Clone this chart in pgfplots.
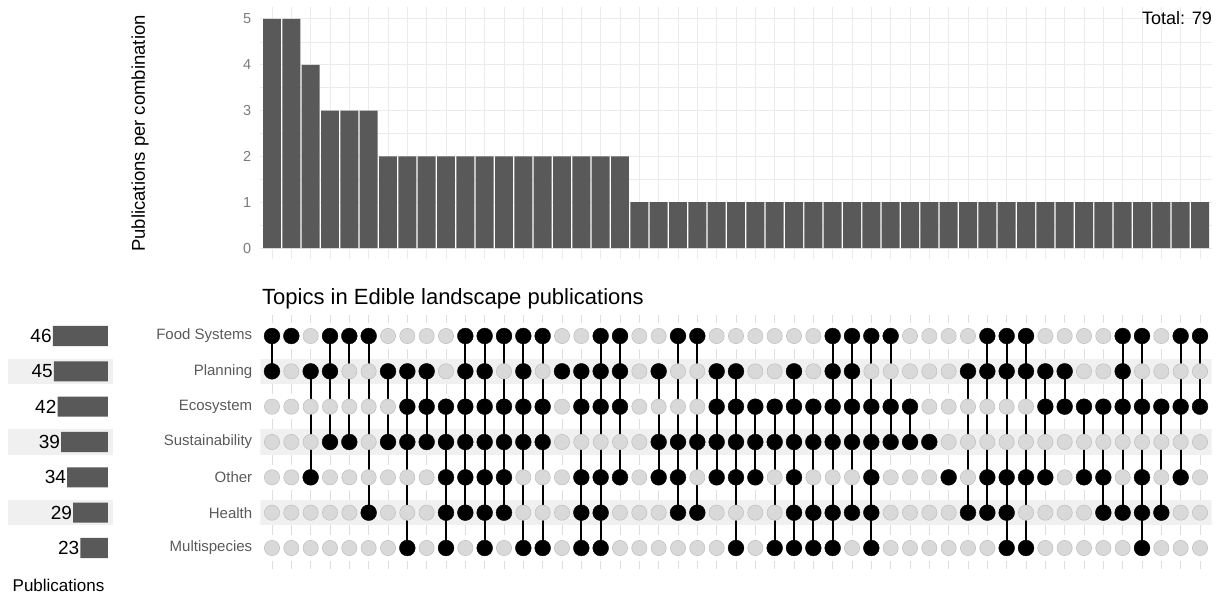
\documentclass[border=0pt]{standalone}
\usepackage{fontspec}
\setmainfont{Liberation Sans}
\usepackage{pgfplots}
\pgfplotsset{compat=1.18}
\definecolor{barc}{HTML}{595959}
\definecolor{gridc}{HTML}{EBEBEB}
\definecolor{stripe}{HTML}{F0F0F0}
\definecolor{dotg}{HTML}{D9D9D9}
\definecolor{dotgd}{HTML}{C2C2C2}
\definecolor{labc}{HTML}{5A5A5A}
\definecolor{vtick}{HTML}{DEDEDE}
\begin{document}
\begin{tikzpicture}[x=1pt,y=1pt]
\path[use as bounding box] (0,0) rectangle (1220,-593);
% ---------------- top: intersection sizes
\begin{axis}[
 scale only axis, width=951.2pt, height=252pt,
 at={(260.4pt,-259.5pt)}, anchor=south west,
 xmin=0.4, xmax=49.6, ymin=-0.25, ymax=5.25,
 axis line style={draw=none}, major tick length=0pt, minor tick length=0pt,
 xtick={1,...,49}, xticklabels={},
 ytick={0,...,5}, minor ytick={0.5,1.5,...,4.5},
 xmajorgrids, ymajorgrids, yminorgrids,
 major grid style={gridc, line width=1pt},
 minor grid style={gridc, line width=0.7pt},
 y tick label style={font=\fontsize{14.5}{16}\selectfont, text=labc!80, inner sep=0pt, xshift=-9pt},
 /pgf/number format/assume math mode=true,
 ylabel={Publications per combination},
 ylabel style={at={(axis description cs:-0.1266,0.5)}, anchor=center, font=\fontsize{18.5}{22}\selectfont},
 ybar, bar width=0.93, clip=false,
]
\addplot[fill=barc, draw=none] coordinates {
(1,5)(2,5)(3,4)(4,3)(5,3)(6,3)
(7,2)(8,2)(9,2)(10,2)(11,2)(12,2)(13,2)(14,2)(15,2)(16,2)(17,2)(18,2)(19,2)
(20,1)(21,1)(22,1)(23,1)(24,1)(25,1)(26,1)(27,1)(28,1)(29,1)(30,1)
(31,1)(32,1)(33,1)(34,1)(35,1)(36,1)(37,1)(38,1)(39,1)(40,1)
(41,1)(42,1)(43,1)(44,1)(45,1)(46,1)(47,1)(48,1)(49,1)};
\node[anchor=base east, inner sep=0pt, font=\fontsize{18}{20}\selectfont] at (axis description cs:1.0004,0.9306) {Total: 79};
\node[anchor=base west, inner sep=0pt, font=\fontsize{22}{26}\selectfont] at (axis description cs:0.0017,-0.1786) {Topics in Edible landscape publications};
\end{axis}
% ---------------- matrix
\begin{axis}[
 scale only axis, width=951.2pt, height=254.4pt,
 at={(260.4pt,-314.8pt)}, anchor=north west,
 xmin=0.4, xmax=49.6, ymin=0.4, ymax=7.6, y dir=reverse,
 axis line style={draw=none}, major tick length=0pt,
 xtick={1,...,49}, xticklabels={}, xmajorgrids,
 major grid style={vtick, line width=0.9pt},
 ytick={1,...,7},
 yticklabels={Food Systems,Planning,Ecosystem,Sustainability,Other,Health,Multispecies},
 y tick label style={font=\fontsize{15}{17}\selectfont, text=labc, inner sep=0pt, xshift=-8pt},
 unbounded coords=jump,
]
\fill[white] (axis cs:0.4,0.646) rectangle (axis cs:49.6,1.354);
\fill[stripe] (axis cs:0.4,1.646) rectangle (axis cs:49.6,2.354);
\fill[white] (axis cs:0.4,2.646) rectangle (axis cs:49.6,3.354);
\fill[stripe] (axis cs:0.4,3.646) rectangle (axis cs:49.6,4.354);
\fill[white] (axis cs:0.4,4.646) rectangle (axis cs:49.6,5.354);
\fill[stripe] (axis cs:0.4,5.646) rectangle (axis cs:49.6,6.354);
\fill[white] (axis cs:0.4,6.646) rectangle (axis cs:49.6,7.354);
% grey (absent) dots
\addplot[only marks, mark=*, mark size=7.6pt, mark options={fill=dotg, draw=dotgd, line width=0.6pt}] coordinates {
(3,1)(7,1)(8,1)(9,1)(10,1)(16,1)(17,1)(20,1)(21,1)(24,1)(25,1)(26,1)(27,1)(28,1)(29,1)(34,1)(35,1)(36,1)(37,1)(41,1)(42,1)(43,1)(44,1)(47,1)
(2,2)(5,2)(6,2)(10,2)(13,2)(15,2)(20,2)(22,2)(23,2)(26,2)(27,2)(29,2)(32,2)(33,2)(34,2)(35,2)(36,2)(43,2)(44,2)(46,2)(47,2)(48,2)(49,2)
(1,3)(2,3)(3,3)(4,3)(5,3)(6,3)(7,3)(16,3)(20,3)(21,3)(22,3)(23,3)(35,3)(36,3)(37,3)(38,3)(39,3)(40,3)
(1,4)(2,4)(3,4)(6,4)(16,4)(17,4)(18,4)(19,4)(20,4)(36,4)(37,4)(38,4)(39,4)(40,4)(41,4)(42,4)(43,4)(44,4)(45,4)(46,4)(47,4)(48,4)(49,4)
(1,5)(2,5)(4,5)(5,5)(6,5)(7,5)(8,5)(9,5)(14,5)(15,5)(16,5)(20,5)(23,5)(27,5)(29,5)(30,5)(31,5)(33,5)(34,5)(35,5)(37,5)(42,5)(45,5)(47,5)(49,5)
(1,6)(2,6)(3,6)(4,6)(5,6)(7,6)(8,6)(9,6)(14,6)(15,6)(16,6)(19,6)(20,6)(21,6)(24,6)(25,6)(26,6)(27,6)(33,6)(34,6)(35,6)(36,6)(40,6)(41,6)(42,6)(43,6)(48,6)(49,6)
(1,7)(2,7)(3,7)(4,7)(5,7)(6,7)(7,7)(9,7)(11,7)(13,7)(16,7)(19,7)(20,7)(21,7)(22,7)(23,7)(24,7)(26,7)(31,7)(33,7)(34,7)(35,7)(36,7)(37,7)(38,7)(41,7)(42,7)(43,7)(44,7)(45,7)(47,7)(48,7)(49,7)};
% connecting lines
\addplot[black, line width=2.3pt, mark=none] coordinates {
(1,1)(1,2)(1,nan) (3,2)(3,5)(3,nan) (4,1)(4,4)(4,nan) (5,1)(5,4)(5,nan)
(6,1)(6,6)(6,nan) (7,2)(7,4)(7,nan) (8,2)(8,7)(8,nan) (9,2)(9,4)(9,nan)
(10,3)(10,7)(10,nan) (11,1)(11,6)(11,nan) (12,1)(12,7)(12,nan) (13,1)(13,6)(13,nan)
(14,1)(14,7)(14,nan) (15,1)(15,7)(15,nan) (17,2)(17,7)(17,nan) (18,1)(18,7)(18,nan)
(19,1)(19,5)(19,nan) (21,2)(21,5)(21,nan) (22,1)(22,6)(22,nan) (23,1)(23,6)(23,nan)
(24,2)(24,5)(24,nan) (25,2)(25,7)(25,nan) (26,3)(26,5)(26,nan) (27,3)(27,7)(27,nan)
(28,2)(28,7)(28,nan) (29,3)(29,7)(29,nan) (30,1)(30,7)(30,nan) (31,1)(31,6)(31,nan)
(32,1)(32,7)(32,nan) (33,1)(33,4)(33,nan) (34,3)(34,4)(34,nan) (37,2)(37,6)(37,nan)
(38,1)(38,6)(38,nan) (39,1)(39,7)(39,nan) (40,1)(40,7)(40,nan) (41,2)(41,5)(41,nan)
(42,2)(42,3)(42,nan) (43,3)(43,5)(43,nan) (44,3)(44,6)(44,nan) (45,1)(45,6)(45,nan)
(46,1)(46,7)(46,nan) (47,3)(47,6)(47,nan) (48,1)(48,5)(48,nan) (49,1)(49,3)};
% black (present) dots
\addplot[only marks, mark=*, mark size=7.9pt, mark options={fill=black, draw=black, line width=0.4pt}] coordinates {
(1,1)(2,1)(4,1)(5,1)(6,1)(11,1)(12,1)(13,1)(14,1)(15,1)(18,1)(19,1)(22,1)(23,1)(30,1)(31,1)(32,1)(33,1)(38,1)(39,1)(40,1)(45,1)(46,1)(48,1)(49,1)
(1,2)(3,2)(4,2)(7,2)(8,2)(9,2)(11,2)(12,2)(14,2)(16,2)(17,2)(18,2)(19,2)(21,2)(24,2)(25,2)(28,2)(30,2)(31,2)(37,2)(38,2)(39,2)(40,2)(41,2)(42,2)(45,2)
(8,3)(9,3)(10,3)(11,3)(12,3)(13,3)(14,3)(15,3)(17,3)(18,3)(19,3)(24,3)(25,3)(26,3)(27,3)(28,3)(29,3)(30,3)(31,3)(32,3)(33,3)(34,3)(41,3)(42,3)(43,3)(44,3)(45,3)(46,3)(47,3)(48,3)(49,3)
(4,4)(5,4)(7,4)(8,4)(9,4)(10,4)(11,4)(12,4)(13,4)(14,4)(15,4)(21,4)(22,4)(23,4)(24,4)(25,4)(26,4)(27,4)(28,4)(29,4)(30,4)(31,4)(32,4)(33,4)(34,4)(35,4)
(3,5)(10,5)(11,5)(12,5)(13,5)(17,5)(18,5)(19,5)(21,5)(22,5)(24,5)(25,5)(26,5)(28,5)(32,5)(36,5)(38,5)(39,5)(40,5)(41,5)(43,5)(44,5)(46,5)(48,5)
(6,6)(10,6)(11,6)(12,6)(13,6)(17,6)(18,6)(22,6)(23,6)(28,6)(29,6)(30,6)(31,6)(32,6)(37,6)(38,6)(39,6)(44,6)(45,6)(46,6)(47,6)
(8,7)(10,7)(12,7)(14,7)(15,7)(17,7)(18,7)(25,7)(27,7)(28,7)(29,7)(30,7)(32,7)(39,7)(40,7)(46,7)};
\end{axis}
% ---------------- set sizes
\begin{axis}[
 scale only axis, width=105pt, height=254.4pt,
 at={(8pt,-314.8pt)}, anchor=north west,
 xmin=-4.17, xmax=83.3, x dir=reverse,
 ymin=0.4, ymax=7.6, y dir=reverse,
 axis line style={draw=none}, major tick length=0pt,
 xtick=\empty, ytick=\empty,
 xlabel={Publications},
 xlabel style={font=\fontsize{17}{20}\selectfont, yshift=-6pt, xshift=-2pt},
 xbar, bar width=0.57,
 /pgf/number format/assume math mode=true,
 nodes near coords,
 every node near coord/.append style={anchor=east, font=\fontsize{19}{22}\selectfont, inner sep=1pt, text=black},
 clip=false,
]
\fill[stripe] (axis cs:-4.17,1.646) rectangle (axis cs:83.3,2.354);
\fill[stripe] (axis cs:-4.17,3.646) rectangle (axis cs:83.3,4.354);
\fill[stripe] (axis cs:-4.17,5.646) rectangle (axis cs:83.3,6.354);
\addplot[fill=barc, draw=none] coordinates {(46,1)(45,2)(42,3)(39,4)(34,5)(29,6)(23,7)};
\end{axis}
\end{tikzpicture}
\end{document}
